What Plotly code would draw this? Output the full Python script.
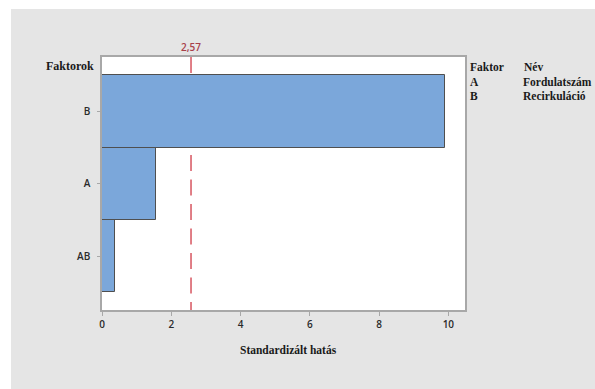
import plotly.graph_objects as go

# Data
factors = ["AB", "A", "B"]
effects = [0.38, 1.55, 9.9]
critical_value = 2.57
critical_label = "2,57"
x_ticks = [0, 2, 4, 6, 8, 10]
legend_codes = ["A", "B"]
legend_names = ["Fordulatszám", "Recirkuláció"]

W, H = 595, 389
L, R, T, B = 102, 130, 57, 79
PW, PH = W - L - R, H - T - B

def px(xp):
    return (xp - L) / PW

def py(yp):
    return (H - B - yp) / PH

serif = "Liberation Serif"
sans = "Open Sans"

fig = go.Figure()
fig.add_trace(go.Bar(
    x=effects, y=factors, orientation="h",
    marker=dict(color="#7ba7da", line=dict(color="#4f4f4f", width=1)),
    width=1.0, showlegend=False, hoverinfo="x+y",
))

fig.update_layout(
    width=W, height=H,
    margin=dict(l=L, r=R, t=T, b=B, pad=0),
    paper_bgcolor="#e5e5e5",
    plot_bgcolor="#ffffff",
    bargap=0,
    xaxis=dict(
        range=[0, 10.48], tickvals=x_ticks, ticktext=[str(v) for v in x_ticks],
        showgrid=False, zeroline=False,
        showline=True, linecolor="#a8a8a8", linewidth=1.5, mirror=True,
        ticks="outside", ticklen=4, tickcolor="#a8a8a8",
        tickfont=dict(family=sans, size=10, color="#2a2a2a", weight=600),
    ),
    yaxis=dict(
        type="category", categoryorder="array", categoryarray=factors,
        range=[-0.747, 2.754],
        showgrid=False, zeroline=False,
        showline=True, linecolor="#a8a8a8", linewidth=1.5, mirror=True,
        ticks="outside", ticklen=3, tickcolor="#a8a8a8",
        ticklabelstandoff=5,
        tickfont=dict(family=sans, size=10, color="#2a2a2a", weight=600),
    ),
)

# reference line (pattern starts at the top of the frame)
fig.add_shape(type="line", xref="x", yref="paper",
              x0=critical_value, x1=critical_value, y0=1, y1=0,
              line=dict(color="#d9606a", width=1.6, dash="16px,8.5px"),
              layer="below")
fig.add_annotation(x=critical_value, xref="x", y=1, yref="paper",
                   yanchor="bottom", yshift=1, text=critical_label, showarrow=False,
                   font=dict(family=sans, size=10, color="#a8404a", weight=600))

# white border strips
fig.add_shape(type="rect", xref="paper", yref="paper",
              x0=px(-5), x1=px(11), y0=py(H + 5), y1=py(-5),
              fillcolor="#ffffff", line=dict(width=0), layer="above")
fig.add_shape(type="rect", xref="paper", yref="paper",
              x0=px(-5), x1=px(W + 5), y0=py(9), y1=py(-5),
              fillcolor="#ffffff", line=dict(width=0), layer="above")

# axis labels
fig.add_annotation(x=px(96), y=py(66), xref="paper", yref="paper",
                   xanchor="right", yanchor="middle", text="<b>Faktorok</b>",
                   showarrow=False, font=dict(family=serif, size=12, color="#1a1a1a"))
fig.add_annotation(x=px(288), y=py(350), xref="paper", yref="paper",
                   xanchor="center", yanchor="middle", text="<b>Standardizált hatás</b>",
                   showarrow=False, font=dict(family=serif, size=11.5, color="#1a1a1a"))

# factor legend table
rows_y = [82, 96]
fig.add_annotation(x=px(468), y=py(67), xref="paper", yref="paper",
                   xanchor="left", yanchor="middle", text="<b>Faktor</b>",
                   showarrow=False, font=dict(family=serif, size=11.5, color="#1a1a1a"))
fig.add_annotation(x=px(522), y=py(67), xref="paper", yref="paper",
                   xanchor="left", yanchor="middle", text="<b>Név</b>",
                   showarrow=False, font=dict(family=serif, size=11.5, color="#1a1a1a"))
for code, name, yy in zip(legend_codes, legend_names, rows_y):
    fig.add_annotation(x=px(468), y=py(yy), xref="paper", yref="paper",
                       xanchor="left", yanchor="middle", text=f"<b>{code}</b>",
                       showarrow=False, font=dict(family=serif, size=11.5, color="#1a1a1a"))
    fig.add_annotation(x=px(521), y=py(yy), xref="paper", yref="paper",
                       xanchor="left", yanchor="middle", text=f"<b>{name}</b>",
                       showarrow=False, font=dict(family=serif, size=11.5, color="#1a1a1a"))

fig.write_html("out.html")
